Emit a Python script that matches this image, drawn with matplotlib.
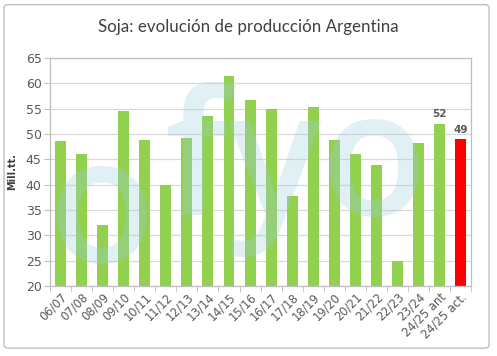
import matplotlib
matplotlib.use("Agg")
import matplotlib.pyplot as plt
from matplotlib.patches import FancyBboxPatch
import numpy as np

categories = ["06/07", "07/08", "08/09", "09/10", "10/11", "11/12", "12/13", "13/14",
              "14/15", "15/16", "16/17", "17/18", "18/19", "19/20", "20/21", "21/22",
              "22/23", "23/24", "24/25 ant", "24/25 act."]
values = [48.7, 46.1, 32.1, 54.5, 48.9, 40.0, 49.3, 53.5, 61.4, 56.8, 55.0, 37.8,
          55.3, 48.8, 46.1, 43.9, 25.0, 48.2, 52.0, 49.0]
labeled = {"24/25 ant": "52", "24/25 act.": "49"}
title = "Soja: evolución de producción Argentina"
ylabel = "Mill.tt."
yticks = [20, 25, 30, 35, 40, 45, 50, 55, 60, 65]

green = "#92D050"
red = "#FF0000"
txt = "#595959"

fig = plt.figure(figsize=(4.97, 3.56), dpi=100)
bg = FancyBboxPatch((0.008, 0.022), 0.976, 0.965, boxstyle="round,pad=0,rounding_size=0.01",
                    transform=fig.transFigure, fc="white", ec="#BFBFBF", lw=1.0, zorder=-10)
fig.patches.append(bg)
ax = fig.add_axes([0.1006, 0.1966, 0.8474, 0.6404])
ax.set_facecolor("none")

x = np.arange(len(categories))
colors = [green] * (len(categories) - 1) + [red]
ax.bar(x, [v - 20 for v in values], bottom=20, width=0.52, color=colors, zorder=2)
for xi, c, v in zip(x, categories, values):
    if c in labeled:
        ax.text(xi, v + 0.9, labeled[c], ha="center", va="bottom", fontsize=7.5,
                fontweight="bold", color=txt)

ax.set_xlim(-0.5, len(categories) - 0.5)
ax.set_ylim(20, 65)
ax.set_yticks(yticks)
ax.set_yticklabels([str(t) for t in yticks], fontsize=9, color=txt)
ax.grid(axis="y", color="#D9D9D9", lw=0.9, zorder=0)
ax.set_axisbelow(True)
ax.set_xticks(x)
ax.set_xticklabels(categories, rotation=45, ha="right", rotation_mode="anchor",
                   fontsize=8.3, color=txt)
ax.set_xticks(np.arange(-0.5, len(categories) + 0.5, 1), minor=True)
ax.tick_params(axis="x", which="major", length=0, pad=3)
ax.tick_params(axis="x", which="minor", length=4, color="#BFBFBF", direction="out")
ax.tick_params(axis="y", length=4, color="#BFBFBF", pad=2)
for s in ax.spines.values():
    s.set_color("#BFBFBF")
    s.set_linewidth(0.9)
ax.set_ylabel(ylabel, fontsize=7, fontweight="bold", color="#404040", labelpad=6)

fig.text(0.5, 0.925, title, ha="center", va="center", fontsize=12.2, color="#404040",
         family="Lato")

# watermark
wm = dict(transform=ax.transAxes, ha="center", va="baseline", fontsize=125,
          fontweight="semibold", color="#9ECFE0", alpha=0.3, zorder=5, family="Open Sans")
ax.text(0.121, 0.105, "o", **wm)
ax.text(0.585, 0.311, "fyo", **wm)

fig.savefig("out.png", dpi=100)
